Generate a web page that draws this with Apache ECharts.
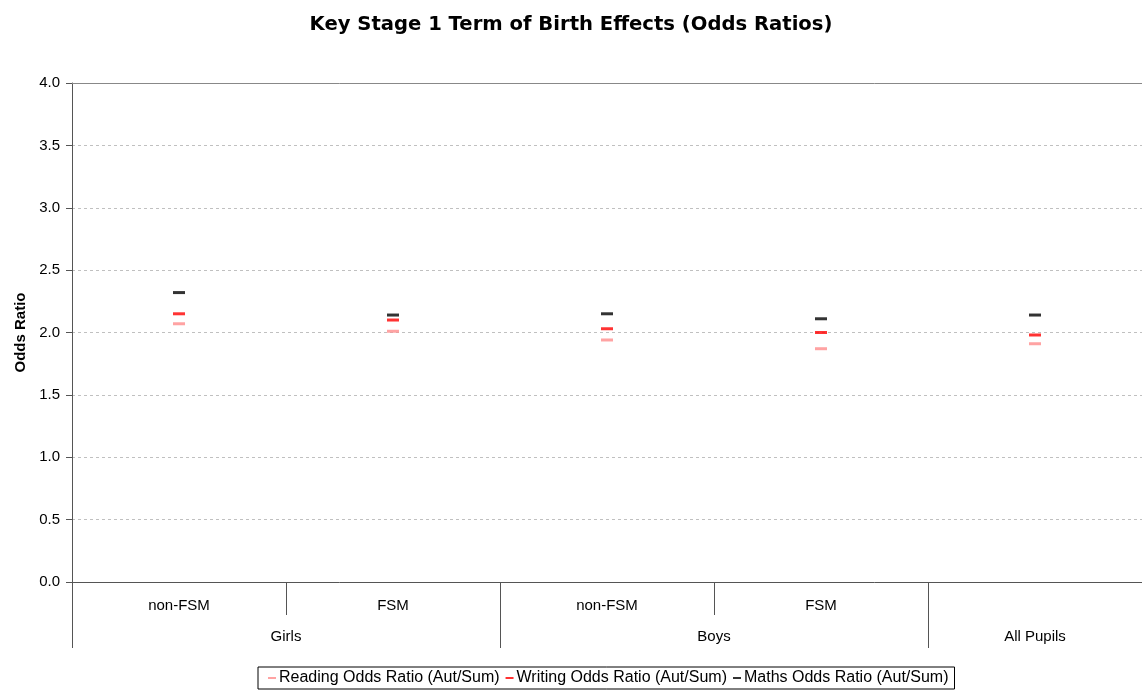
<!DOCTYPE html>
<html>
<head>
<meta charset="utf-8">
<script src="https://cdn.jsdelivr.net/npm/echarts@6/dist/echarts.min.js"></script>
<style>html,body{margin:0;padding:0;background:#fff;}#c{width:1142px;height:693px;}</style>
</head>
<body>
<div id="c"></div>
<script>
var subCategories = ['non-FSM', 'FSM', 'non-FSM', 'FSM', ''];
var groupLabels = ['Girls', 'Boys', 'All Pupils'];
var groupCenters = [1, 3, 4.5];
var groupBounds = [0, 2, 4, 5];
var readingOR = [2.07, 2.01, 1.94, 1.87, 1.91];
var writingOR = [2.15, 2.10, 2.03, 2.00, 1.98];
var mathsOR = [2.32, 2.14, 2.15, 2.11, 2.14];
var yTicks = [0, 0.5, 1.0, 1.5, 2.0, 2.5, 3.0, 3.5, 4.0];

var font = 'Liberation Sans, Arial, sans-serif';
var chart = echarts.init(document.getElementById('c'));
function ser(name, data, color) {
  return {
    name: name, type: 'scatter', data: data, xAxisIndex: 0,
    symbol: 'rect', symbolSize: [12, 3],
    itemStyle: { color: color }
  };
}
chart.setOption({
  animation: false,
  backgroundColor: '#fff',
  title: {
    text: 'Key Stage 1 Term of Birth Effects (Odds Ratios)',
    left: 'center', top: 10,
    textStyle: { fontFamily: 'DejaVu Sans', fontSize: 19.6, fontWeight: 'bold', color: '#000' }
  },
  grid: { left: 72, top: 83, width: 1072, bottom: 111 },
  legend: {
    left: 258, top: 667,
    padding: [3, 6, 3, 10],
    borderColor: '#000', borderWidth: 1,
    icon: 'rect', itemWidth: 8, itemHeight: 2, itemGap: 6,
    textStyle: { fontFamily: font, fontSize: 16, color: '#000', padding: [0, 0, 0, -2] },
    data: ['Reading Odds Ratio (Aut/Sum)', 'Writing Odds Ratio (Aut/Sum)', 'Maths Odds Ratio (Aut/Sum)']
  },
  xAxis: [
    {
      type: 'category', data: subCategories, position: 'bottom',
      axisLine: { lineStyle: { color: '#555', width: 1 } },
      axisTick: { show: true, alignWithLabel: false, interval: 0, length: 33, lineStyle: { color: '#555' } },
      axisLabel: { interval: 0, margin: 16, fontFamily: font, fontSize: 15, color: '#000' },
      splitLine: { show: false }
    },
    {
      type: 'value', min: 0, max: 5, position: 'bottom',
      axisLine: { show: false },
      axisTick: { show: true, length: 66, customValues: groupBounds, lineStyle: { color: '#555' } },
      axisLabel: {
        margin: 47, fontFamily: font, fontSize: 15, color: '#000',
        customValues: groupCenters,
        formatter: function (v) { var i = groupCenters.indexOf(v); return i >= 0 ? groupLabels[i] : ''; }
      },
      splitLine: { show: false }
    },
    {
      type: 'value', min: 0, max: 5, position: 'top',
      axisLine: { show: true, lineStyle: { color: '#888' } },
      axisTick: { show: false }, axisLabel: { show: false }, splitLine: { show: false }
    }
  ],
  yAxis: {
    type: 'value', min: 0, max: 4, interval: 0.5,
    name: 'Odds Ratio', nameLocation: 'middle', nameGap: 44, nameRotate: 90,
    nameTextStyle: { fontFamily: font, fontSize: 15, fontWeight: 'bold', color: '#000' },
    axisLine: { show: true, lineStyle: { color: '#555' } },
    axisTick: { show: true, length: 6, lineStyle: { color: '#555' } },
    axisLabel: {
      margin: 12, fontFamily: font, fontSize: 15, color: '#000',
      customValues: yTicks,
      formatter: function (v) { return v.toFixed(1); }
    },
    splitLine: { show: true, lineStyle: { color: '#c0c0c0', type: [3, 3], width: 1 } }
  },
  series: [
    ser('Reading Odds Ratio (Aut/Sum)', readingOR, '#ff8c8c'),
    ser('Writing Odds Ratio (Aut/Sum)', writingOR, '#ff0000'),
    ser('Maths Odds Ratio (Aut/Sum)', mathsOR, '#000000')
  ]
});
</script>
</body>
</html>
